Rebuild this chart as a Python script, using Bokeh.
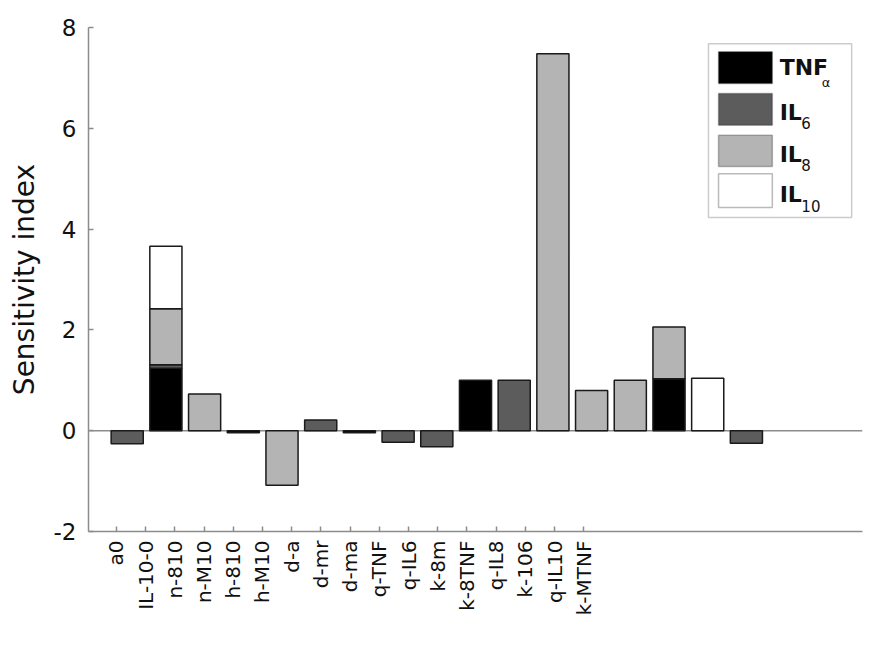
import numpy as np
from bokeh.plotting import figure
from bokeh.models import Range1d, FixedTicker, Span, BoxAnnotation, Label
from bokeh.embed import file_html
from bokeh.resources import INLINE

# ---------------- data ----------------
categories = ["a0", "IL-10-0", "n-810", "n-M10", "h-810", "h-M10", "d-a", "d-mr",
              "d-ma", "q-TNF", "q-IL6", "k-8m", "k-8TNF", "q-IL8", "k-106", "q-IL10", "k-MTNF"]
tnf  = [0.00, 1.24, 0.00, -0.04, 0.00, 0.00, -0.04, 0.00, 0.00, 1.00, 0.00, 0.00, 0.00, 0.00, 1.03, 0.00, 0.00]
il6  = [-0.26, 0.07, 0.00, 0.00, 0.00, 0.21, 0.00, -0.23, -0.32, 0.00, 1.00, 0.00, 0.00, 0.00, 0.00, 0.00, -0.25]
il8  = [0.00, 1.11, 0.73, 0.00, -1.08, 0.00, 0.00, 0.00, 0.00, 0.00, 0.00, 7.48, 0.80, 1.00, 1.03, 0.00, 0.00]
il10 = [0.00, 1.24, 0.00, 0.00, 0.00, 0.00, 0.00, 0.00, 0.00, 0.00, 0.00, 0.00, 0.00, 0.00, 0.00, 1.04, 0.00]
series_names = ["TNF", "IL", "IL", "IL"]
series_subs = ["\u03b1", "6", "8", "10"]
y_ticks = [-2, 0, 2, 4, 6, 8]
y_tick_labels = ["-2", "0", "2", "4", "6", "8"]

# ---------------- style ----------------
FONT = "DejaVu Sans"
colors = ["#000000", "#5c5c5c", "#b4b4b4", "#ffffff"]
AXIS_COLOR = "#8c8c8c"

p = figure(width=880, height=640, output_backend="svg", toolbar_location=None,
           x_range=Range1d(0, 20), y_range=Range1d(-2, 8),
           min_border_left=88, min_border_right=18, min_border_top=27, min_border_bottom=109)
p.outline_line_color = None
p.xgrid.visible = False
p.ygrid.visible = False
p.background_fill_color = "white"

# zero line
p.add_layout(Span(location=0, dimension="width", line_color=AXIS_COLOR, line_width=1.5, level="underlay"))

# stacked bars (positive parts stack upward, negative parts downward)
xs = np.arange(1, len(categories) + 1, dtype=float)
pos_base = np.zeros(len(categories))
neg_base = np.zeros(len(categories))
for vals, col in zip([tnf, il6, il8, il10], colors):
    v = np.array(vals, dtype=float)
    bottoms = np.where(v >= 0, pos_base, neg_base + v)
    tops = np.where(v >= 0, pos_base + v, neg_base)
    pos_base = pos_base + np.where(v > 0, v, 0)
    neg_base = neg_base + np.where(v < 0, v, 0)
    m = v != 0
    p.vbar(x=xs[m], bottom=bottoms[m], top=tops[m], width=0.83,
           fill_color=col, line_color="#1a1a1a", line_width=1.5)

# axes
tick_pos = [round(0.72 + 0.755 * i, 3) for i in range(len(categories))]
p.xaxis.ticker = FixedTicker(ticks=tick_pos)
p.xaxis.major_label_overrides = {t: c for t, c in zip(tick_pos, categories)}
p.xaxis.major_label_orientation = np.pi / 2
p.xaxis.major_label_text_font = FONT
p.xaxis.major_label_text_font_size = "20px"
p.xaxis.major_label_standoff = 9
p.yaxis.ticker = FixedTicker(ticks=y_ticks)
p.yaxis.major_label_overrides = {t: s for t, s in zip(y_ticks, y_tick_labels)}
p.yaxis.major_label_text_font = FONT
p.yaxis.major_label_text_font_size = "23px"
p.yaxis.major_label_standoff = 12
p.yaxis.axis_label = "Sensitivity index"
p.yaxis.axis_label_text_font = FONT
p.yaxis.axis_label_text_font_size = "28px"
p.yaxis.axis_label_text_font_style = "normal"
p.yaxis.axis_label_text_color = "#111111"
p.yaxis.axis_label_standoff = 10
for ax in (p.xaxis, p.yaxis):
    ax.axis_line_color = AXIS_COLOR
    ax.axis_line_width = 1.5
    ax.major_tick_line_color = AXIS_COLOR
    ax.major_tick_line_width = 1.5
    ax.major_tick_in = 5
    ax.major_tick_out = 0
    ax.minor_tick_line_color = None
    ax.major_label_text_color = "#111111"

# custom legend (layout positions in data units of the fixed ranges)
p.add_layout(BoxAnnotation(left=16.02, right=19.72, bottom=4.23, top=7.68,
                           fill_color="white", fill_alpha=1.0,
                           line_color="#555555", line_width=1.5, level="overlay"))
rows = [(6.89, 7.52), (6.06, 6.69), (5.24, 5.86), (4.43, 5.10)]
name_base = [7.21, 6.31, 5.48, 4.69]
sub_base = [6.90, 6.10, 5.27, 4.45]
sub_x = [18.95, 18.42, 18.42, 18.42]
for (b, t), col, nm, sb, nb, sbb, sx in zip(rows, colors, series_names, series_subs,
                                           name_base, sub_base, sub_x):
    p.add_layout(BoxAnnotation(left=16.28, right=17.67, bottom=b, top=t,
                               fill_color=col, fill_alpha=1.0,
                               line_color="#1a1a1a", line_width=1.5, level="overlay"))
    p.add_layout(Label(x=17.86, y=nb, text=nm, text_font=FONT, text_font_size="22px",
                       text_font_style="bold", text_baseline="alphabetic",
                       text_color="#111111", level="overlay"))
    p.add_layout(Label(x=sx, y=sbb, text=sb, text_font=FONT,
                       text_font_size="13px" if sb == "\u03b1" else "15px",
                       text_baseline="alphabetic", text_color="#111111", level="overlay"))

open("out.html", "w").write(file_html(p, INLINE))
